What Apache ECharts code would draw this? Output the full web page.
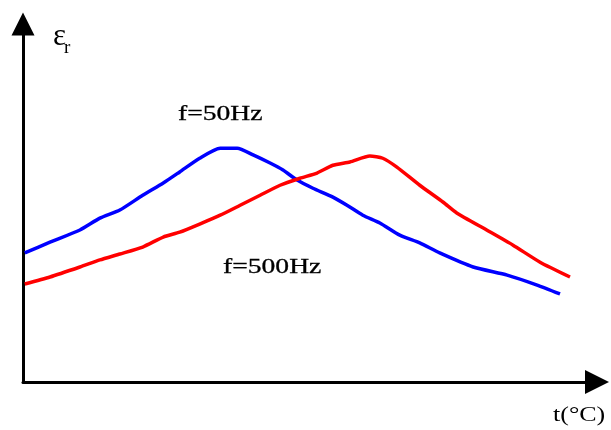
<!DOCTYPE html>
<html>
<head>
<meta charset="utf-8">
<script src="https://cdn.jsdelivr.net/npm/echarts@6/dist/echarts.min.js"></script>
<style>html,body{margin:0;padding:0;background:#fff;}#c{width:611px;height:430px;}</style>
</head>
<body>
<div id="c"></div>
<script>
// temperature (arbitrary units) and permittivity (arbitrary units)
const tBlue = [0.3, 4.6, 9.7, 13.1, 16.5, 20.4, 23.9, 26.7, 30.1, 33.6, 36.5, 39.2, 42.1, 44.3, 46.7, 49.4, 52.8, 55.2, 57.9, 60.8, 64.2, 67.6, 71.0, 76.7, 82.5, 87.6, 91.5];
const epsBlue = [34.9, 37.8, 41.1, 44.3, 46.5, 50.5, 53.8, 56.8, 60.5, 63.2, 63.2, 61.4, 59.2, 57.3, 54.6, 52.4, 50.0, 47.8, 45.1, 43.0, 39.7, 37.6, 34.9, 31.1, 28.9, 26.2, 23.8];
const tRed = [0.3, 4.6, 9.7, 13.1, 16.5, 20.4, 23.9, 26.7, 30.1, 33.6, 37.0, 40.4, 43.8, 47.2, 50.1, 52.8, 55.7, 59.1, 61.3, 63.7, 67.6, 71.6, 73.9, 79.0, 83.5, 88.1, 93.2];
const epsRed = [26.5, 28.4, 31.1, 33.0, 34.6, 36.5, 39.2, 40.5, 42.7, 45.1, 47.8, 50.5, 53.2, 55.1, 56.5, 58.6, 59.5, 61.1, 60.5, 58.1, 53.2, 48.6, 45.7, 41.1, 37.0, 32.4, 28.4];
const seriesNames = ['f=50Hz', 'f=500Hz'];
const yName = 'ε';
const ySub = 'r';
const xName = 't(°C)';

const pairs = (xs, ys) => xs.map((x, i) => [x, ys[i]]);
const chart = echarts.init(document.getElementById('c'), null, {renderer: 'canvas'});
const arrowPath = 'path://M5,0L10,10L0,10Z';
chart.setOption({
  animation: false,
  grid: {left: 23, right: 14, top: 24, bottom: 48, containLabel: false},
  xAxis: {
    type: 'value', min: 0, max: 97.8,
    axisLine: {show: true, lineStyle: {color: '#000', width: 3}, symbol: ['none', arrowPath], symbolSize: [24, 27]},
    axisTick: {show: false}, axisLabel: {show: false}, splitLine: {show: false}
  },
  yAxis: {
    type: 'value', min: 0, max: 96.8,
    axisLine: {show: true, lineStyle: {color: '#000', width: 3}, symbol: ['none', arrowPath], symbolSize: [25, 23]},
    axisTick: {show: false}, axisLabel: {show: false}, splitLine: {show: false}
  },
  series: [
    {name: seriesNames[0], type: 'line', data: pairs(tBlue, epsBlue), showSymbol: false, smooth: 0.2,
     lineStyle: {color: '#0000ff', width: 3.5}, itemStyle: {color: '#0000ff'}},
    {name: seriesNames[1], type: 'line', data: pairs(tRed, epsRed), showSymbol: false, smooth: 0.2,
     lineStyle: {color: '#ff0000', width: 3.5}, itemStyle: {color: '#ff0000'}}
  ],
  graphic: [
    {type: 'text', x: 178, y: 115, scaleX: 1.38, style: {text: seriesNames[0], font: '20px "Liberation Serif"', fill: '#000', stroke: '#000', lineWidth: 0.3, verticalAlign: 'middle', align: 'left'}},
    {type: 'text', x: 223, y: 268, scaleX: 1.38, style: {text: seriesNames[1], font: '20px "Liberation Serif"', fill: '#000', stroke: '#000', lineWidth: 0.3, verticalAlign: 'middle', align: 'left'}},
    {type: 'text', x: 53, y: 37, style: {text: yName, font: '31px "Liberation Serif"', fill: '#000', verticalAlign: 'middle', align: 'left'}},
    {type: 'text', x: 64, y: 48, style: {text: ySub, font: '19px "Liberation Serif"', fill: '#000', verticalAlign: 'middle', align: 'left'}},
    {type: 'text', x: 553, y: 416, scaleX: 1.3, style: {text: xName, font: '20px "Liberation Serif"', fill: '#000', verticalAlign: 'middle', align: 'left'}}
  ]
});
</script>
</body>
</html>
